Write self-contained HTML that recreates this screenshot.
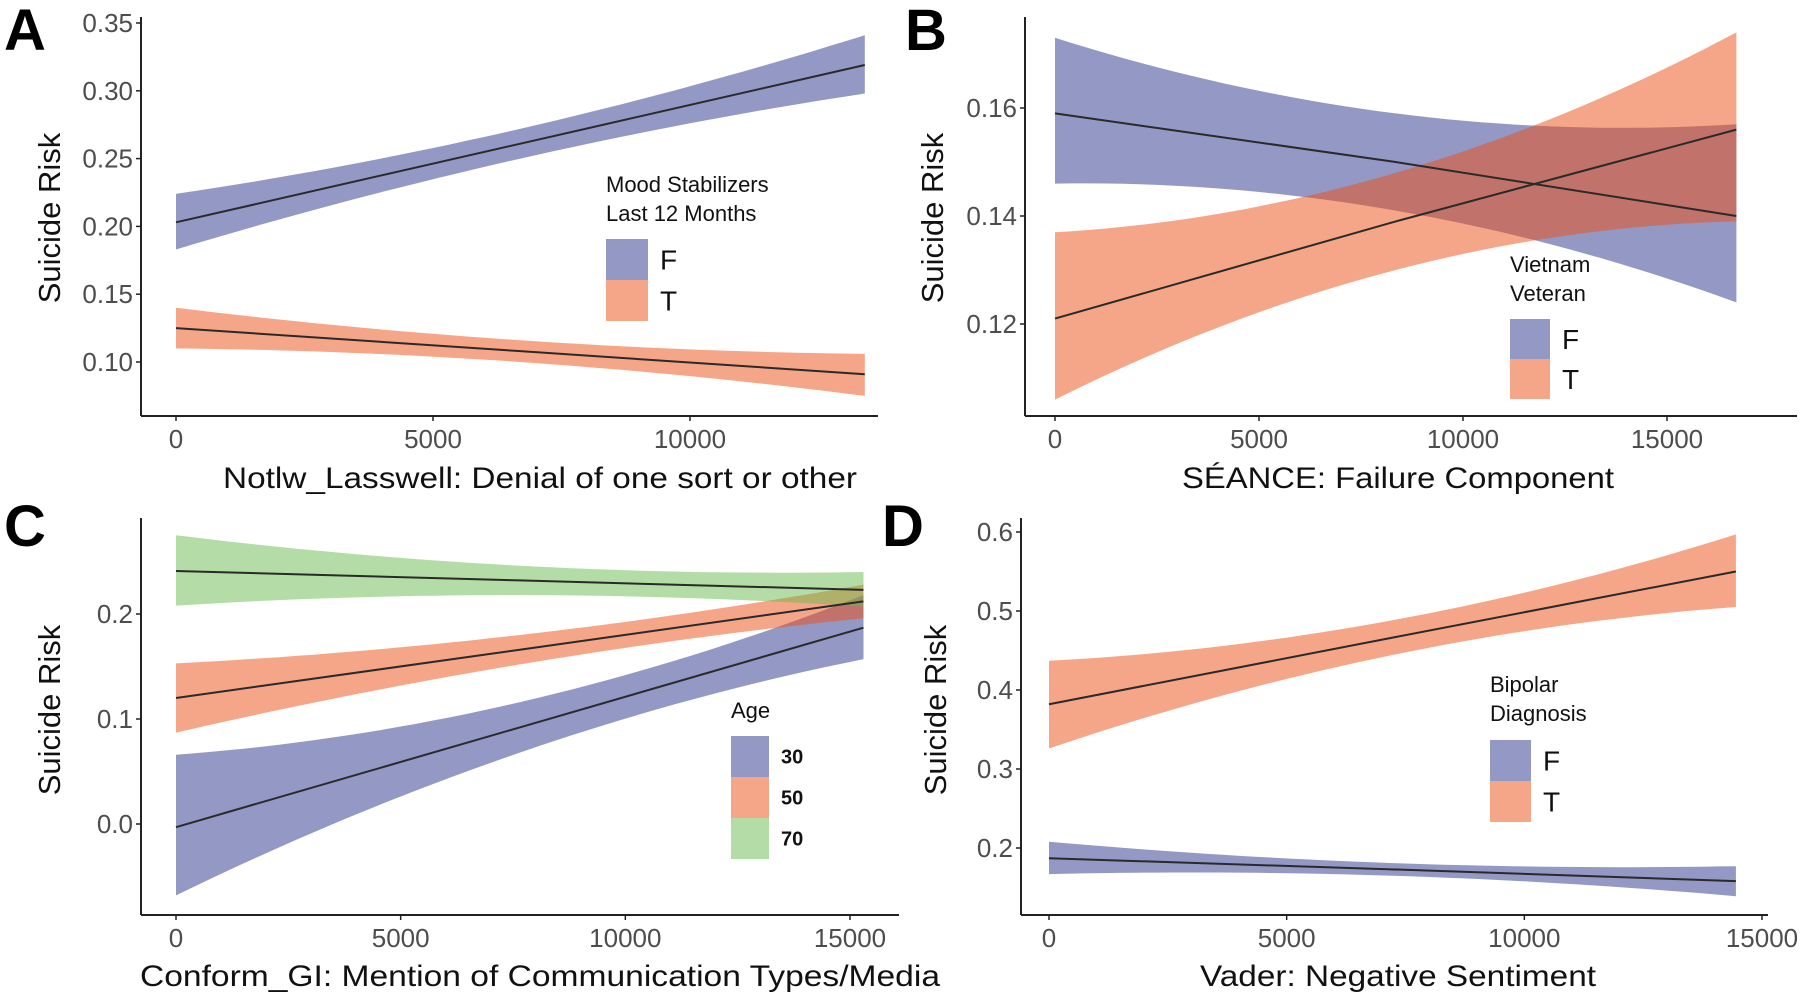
<!DOCTYPE html>
<html><head><meta charset="utf-8"><style>
body{margin:0;background:#fff}
svg{display:block;font-family:"Liberation Sans",Arial,sans-serif}
</style></head><body>
<svg id="chart" width="1800" height="995" viewBox="0 0 1800 995"></svg>
<script>
// ---- Panel A data ----
const aX = [0, 6700, 13400];
const aFfit = [0.203, 0.261, 0.319];
const aFlo = [0.183, 0.250, 0.298];
const aFhi = [0.224, 0.272, 0.341];
const aTfit = [0.125, 0.108, 0.091];
const aTlo = [0.110, 0.100, 0.075];
const aThi = [0.140, 0.116, 0.106];
const aYTicks = [0.10, 0.15, 0.20, 0.25, 0.30, 0.35];
const aYLabels = ["0.10","0.15","0.20","0.25","0.30","0.35"];
const aXTicks = [0, 5000, 10000];
// ---- Panel B data ----
const bX = [0, 8350, 16700];
const bFfit = [0.159, 0.150, 0.140];
const bFlo = [0.146, 0.141, 0.124];
const bFhi = [0.173, 0.159, 0.157];
const bTfit = [0.121, 0.139, 0.156];
const bTlo = [0.106, 0.130, 0.139];
const bThi = [0.137, 0.148, 0.174];
const bYTicks = [0.12, 0.14, 0.16];
const bYLabels = ["0.12","0.14","0.16"];
const bXTicks = [0, 5000, 10000, 15000];
// ---- Panel C data ----
const cX = [0, 7650, 15300];
const c30fit = [-0.003, 0.092, 0.187];
const c30lo = [-0.068, 0.068, 0.157];
const c30hi = [0.066, 0.116, 0.218];
const c50fit = [0.120, 0.166, 0.212];
const c50lo = [0.087, 0.152, 0.196];
const c50hi = [0.153, 0.180, 0.228];
const c70fit = [0.241, 0.232, 0.223];
const c70lo = [0.208, 0.218, 0.207];
const c70hi = [0.275, 0.246, 0.240];
const cYTicks = [0.0, 0.1, 0.2];
const cYLabels = ["0.0","0.1","0.2"];
const cXTicks = [0, 5000, 10000, 15000];
// ---- Panel D data ----
const dX = [0, 7200, 14450];
const dTfit = [0.382, 0.466, 0.550];
const dTlo = [0.326, 0.444, 0.505];
const dThi = [0.437, 0.488, 0.597];
const dFfit = [0.187, 0.173, 0.158];
const dFlo = [0.167, 0.165, 0.139];
const dFhi = [0.208, 0.181, 0.177];
const dYTicks = [0.2, 0.3, 0.4, 0.5, 0.6];
const dYLabels = ["0.2","0.3","0.4","0.5","0.6"];
const dXTicks = [0, 5000, 10000, 15000];

const BLUE = "rgb(41,49,137)", ORANGE = "rgb(237,77,17)", GREEN = "rgb(105,185,77)";
const svg = document.getElementById('chart');
const NS = "http://www.w3.org/2000/svg";
function mk(tag, attrs, parent, text) {
  const e = document.createElementNS(NS, tag);
  for (const k in attrs) e.setAttribute(k, attrs[k]);
  if (text !== undefined) e.textContent = text;
  (parent || svg).appendChild(e);
  return e;
}
function linScale(d0, d1, r0, r1) { return v => r0 + (v - d0) * (r1 - r0) / (d1 - d0); }
// smooth curve through 3 read points (quadratic Lagrange), sampled for drawing
function curvePts(xv, yv, xs, ys) {
  const out = [];
  const [x0, x1, x2] = xv, [y0, y1, y2] = yv;
  for (let k = 0; k <= 40; k++) {
    const x = x0 + (x2 - x0) * k / 40;
    const y = y0 * (x - x1) * (x - x2) / ((x0 - x1) * (x0 - x2))
            + y1 * (x - x0) * (x - x2) / ((x1 - x0) * (x1 - x2))
            + y2 * (x - x0) * (x - x1) / ((x2 - x0) * (x2 - x1));
    out.push(xs(x).toFixed(1) + ',' + ys(y).toFixed(1));
  }
  return out;
}

function panel(cfg) {
  const g = mk('g', {});
  
  
  const xs = linScale(0, cfg.xRef, cfg.x0px, cfg.xRefPx);
  const ys = linScale(cfg.yA, cfg.yB, cfg.yApx, cfg.yBpx);
  cfg.series.forEach(s => {
    const up = curvePts(s.x, s.hi, xs, ys);
    const dn = curvePts(s.x, s.lo, xs, ys).reverse();
    const p = mk('polygon', {points: up.concat(dn).join(' '), fill: s.color, 'fill-opacity': 0.5}, g);
    
    
  });
  cfg.series.forEach(s => {
    const pts = s.x.map((xv, i) => xs(xv) + ',' + ys(s.fit[i])).join(' ');
    const l = mk('polyline', {points: pts, fill: 'none', stroke: '#2a2a2a', 'stroke-width': 2}, g);
    
    
  });
  const ya = mk('line', {x1: cfg.axX, y1: cfg.axTop, x2: cfg.axX, y2: cfg.axY, stroke: '#222', 'stroke-width': 2}, g);
  
  
  const xa = mk('line', {x1: cfg.axX, y1: cfg.axY, x2: cfg.axRight, y2: cfg.axY, stroke: '#222', 'stroke-width': 2}, g);
  
  
  cfg.yTicks.forEach((v, i) => {
    const y = ys(v);
    mk('line', {x1: cfg.axX - 5, y1: y, x2: cfg.axX, y2: y, stroke: '#222', 'stroke-width': 1.5}, g);
    const t = mk('text', {x: cfg.axX - 8, y: y + 9, 'text-anchor': 'end', 'font-size': 26, fill: '#4d4d4d'}, g, cfg.yLabels[i]);
    
    
  });
  cfg.xTicks.forEach(v => {
    const x = xs(v);
    mk('line', {x1: x, y1: cfg.axY, x2: x, y2: cfg.axY + 5, stroke: '#222', 'stroke-width': 1.5}, g);
    const t = mk('text', {x: x, y: cfg.axY + 32, 'text-anchor': 'middle', 'font-size': 26, fill: '#4d4d4d'}, g, String(v));
    
    
  });
  const xt = mk('text', {x: cfg.xtX, y: cfg.xtY, 'text-anchor': 'middle', 'font-size': 30, fill: '#111', textLength: cfg.xtLen, lengthAdjust: 'spacingAndGlyphs'}, g, cfg.xTitle);
  
  
  const yt = mk('text', {x: 0, y: 0, 'text-anchor': 'middle', 'font-size': 31, fill: '#111', transform: `translate(${cfg.ytX},${cfg.ytY}) rotate(-90)`}, g, 'Suicide Risk');
  
  
  const lt = mk('text', {x: cfg.letterX, y: cfg.letterY, 'font-size': 58, 'font-weight': 'bold', fill: '#000'}, g, cfg.letter);
  
  
  cfg.legTitle.forEach((s, i) => {
    const t = mk('text', {x: cfg.legX, y: cfg.legTY + i * 29, 'font-size': 22, fill: '#111'}, g, s);
    
    
  });
  cfg.series.forEach((s, i) => {
    const y = cfg.legKY + i * cfg.legKH;
    const r = mk('rect', {x: cfg.legX, y: y, width: cfg.legKW, height: cfg.legKH, fill: s.color, 'fill-opacity': 0.5}, g);
    
    
    const t = mk('text', {x: cfg.legX + cfg.legKW + 12, y: y + cfg.legKH / 2 + cfg.legFS * 0.36, 'font-size': cfg.legFS, 'font-weight': cfg.legBold ? 'bold' : 'normal', fill: '#111'}, g, s.label);
    
    
  });
}

panel({name: 'panel-a', letter: 'A', letterX: 4, letterY: 50,
  x0px: 176, xRef: 10000, xRefPx: 690, yA: 0.10, yB: 0.35, yApx: 362, yBpx: 23,
  axX: 141, axTop: 17, axY: 416, axRight: 878,
  series: [
    {key: 'F', label: 'F', color: BLUE, x: aX, fit: aFfit, lo: aFlo, hi: aFhi},
    {key: 'T', label: 'T', color: ORANGE, x: aX, fit: aTfit, lo: aTlo, hi: aThi}],
  yTicks: aYTicks, yLabels: aYLabels, xTicks: aXTicks,
  xTitle: 'Notlw_Lasswell: Denial of one sort or other', xtX: 540, xtY: 488, xtLen: 634,
  ytX: 60, ytY: 218, legTitle: ['Mood Stabilizers', 'Last 12 Months'], legX: 606, legTY: 192,
  legKY: 239, legKW: 42, legKH: 41, legFS: 28});

panel({name: 'panel-b', letter: 'B', letterX: 905, letterY: 50,
  x0px: 1055, xRef: 15000, xRefPx: 1667, yA: 0.12, yB: 0.16, yApx: 324, yBpx: 108,
  axX: 1025, axTop: 17, axY: 416, axRight: 1797,
  series: [
    {key: 'F', label: 'F', color: BLUE, x: bX, fit: bFfit, lo: bFlo, hi: bFhi},
    {key: 'T', label: 'T', color: ORANGE, x: bX, fit: bTfit, lo: bTlo, hi: bThi}],
  yTicks: bYTicks, yLabels: bYLabels, xTicks: bXTicks,
  xTitle: 'SÉANCE: Failure Component', xtX: 1398, xtY: 488, xtLen: 432,
  ytX: 943, ytY: 218, legTitle: ['Vietnam', 'Veteran'], legX: 1510, legTY: 272,
  legKY: 319, legKW: 40, legKH: 40, legFS: 28});

panel({name: 'panel-c', letter: 'C', letterX: 4, letterY: 546,
  x0px: 176, xRef: 15000, xRefPx: 850, yA: 0.0, yB: 0.2, yApx: 824, yBpx: 614,
  axX: 141, axTop: 518, axY: 915, axRight: 899,
  series: [
    {key: '30', label: '30', color: BLUE, x: cX, fit: c30fit, lo: c30lo, hi: c30hi},
    {key: '50', label: '50', color: ORANGE, x: cX, fit: c50fit, lo: c50lo, hi: c50hi},
    {key: '70', label: '70', color: GREEN, x: cX, fit: c70fit, lo: c70lo, hi: c70hi}],
  yTicks: cYTicks, yLabels: cYLabels, xTicks: cXTicks,
  xTitle: 'Conform_GI: Mention of Communication Types/Media', xtX: 540, xtY: 986, xtLen: 800,
  ytX: 60, ytY: 710, legTitle: ['Age'], legX: 731, legTY: 718,
  legKY: 736, legKW: 38, legKH: 41, legFS: 20, legBold: true});

panel({name: 'panel-d', letter: 'D', letterX: 882, letterY: 546,
  x0px: 1049, xRef: 15000, xRefPx: 1762, yA: 0.2, yB: 0.6, yApx: 848, yBpx: 532,
  axX: 1021, axTop: 518, axY: 915, axRight: 1768,
  series: [
    {key: 'F', label: 'F', color: BLUE, x: dX, fit: dFfit, lo: dFlo, hi: dFhi},
    {key: 'T', label: 'T', color: ORANGE, x: dX, fit: dTfit, lo: dTlo, hi: dThi}],
  yTicks: dYTicks, yLabels: dYLabels, xTicks: dXTicks,
  xTitle: 'Vader: Negative Sentiment', xtX: 1398, xtY: 986, xtLen: 396,
  ytX: 946, ytY: 710, legTitle: ['Bipolar', 'Diagnosis'], legX: 1490, legTY: 692,
  legKY: 740, legKW: 41, legKH: 41, legFS: 28});
</script>
</body></html>
